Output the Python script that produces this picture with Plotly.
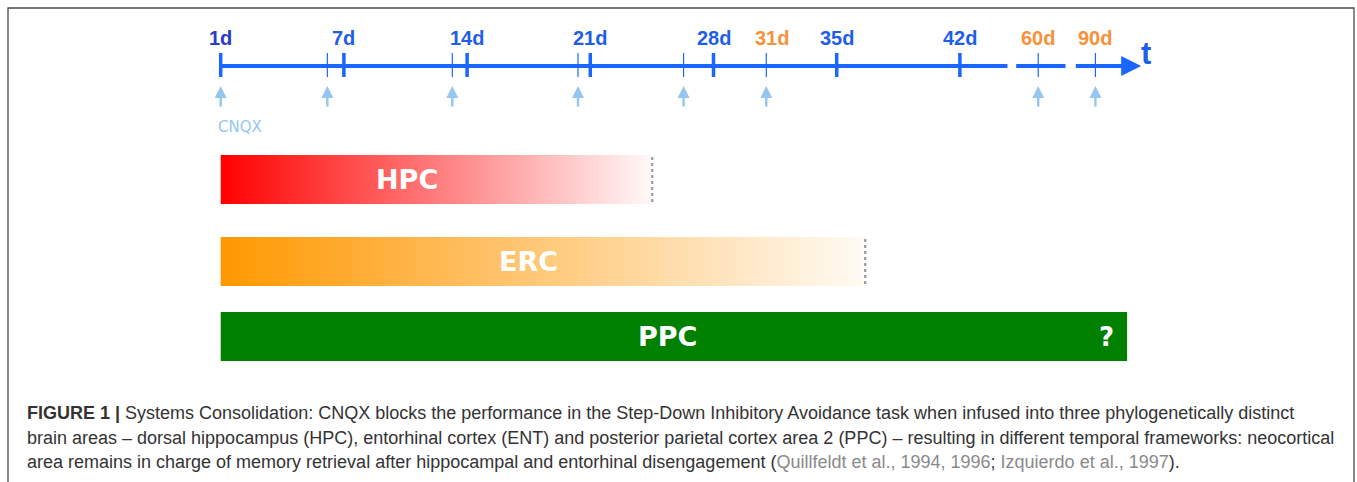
import plotly.graph_objects as go

# ---------------- data ----------------
major_tick_pos = [0, 7, 14, 21, 28, 35, 42]
major_tick_labels = ["1d", "7d", "14d", "21d", "28d", "35d", "42d"]
extra_tick_pos = [31, 46.45, 49.7]
extra_tick_labels = ["31d", "60d", "90d"]
infusion_pos = [0, 6.06, 13.16, 20.3, 26.3, 31.0, 46.45, 49.7]
axis_segments = [(0, 44.7), (45.2, 48.0)]
axis_arrow = (48.5, 52.3)

areas = ["HPC", "ERC", "PPC"]
area_start = [0, 0, 0]
area_end = [24.4, 36.5, 51.5]
area_label_x = [10.6, 17.5, 25.4]

caption_lines = [
    "<b>FIGURE 1 |</b> Systems Consolidation: CNQX blocks the performance in the Step-Down Inhibitory Avoidance task when infused into three phylogenetically distinct",
    "brain areas \u2013 dorsal hippocampus (HPC), entorhinal cortex (ENT) and posterior parietal cortex area 2 (PPC) \u2013 resulting in different temporal frameworks: neocortical",
    "area remains in charge of memory retrieval after hippocampal and entorhinal disengagement (<span style='color:#8a8a8a'>Quillfeldt et al., 1994, 1996</span>; <span style='color:#8a8a8a'>Izquierdo et al., 1997</span>).",
]

# ---------------- styles / layout constants ----------------
W, H = 1357, 482
PX0, PXD = 220.7, 17.6          # pixel of day-position 0, pixels per day
BLUE = "#1a66ff"
LBL_BLUE = "#1f5ee8"
FIRST_BLUE = "#2b3bc8"
ORANGE = "#f7913a"
ARROW_BLUE = "#95c6f2"
LINE_Y = 66
TICK_Y = (53, 77)
LABEL_Y = 38
ARR_Y = (108, 86)
ROW_Y = [(155, 204), (237, 286), (312, 361)]
ROW_COL = [("#ff0000", "#fff8f8"), ("#ff9800", "#fffaf3"), ("#008000", "#008000")]
CAP_Y = [413, 438, 462]

fig = go.Figure()

# bars
for i, name in enumerate(areas):
    y0, y1 = ROW_Y[i]
    x0, x1 = area_start[i], area_end[i]
    c0, c1 = ROW_COL[i]
    fig.add_trace(go.Scatter(
        x=[x0, x1, x1, x0, x0], y=[y0, y0, y1, y1, y0],
        mode="lines", line=dict(width=0), fill="toself",
        fillgradient=dict(type="horizontal", colorscale=[[0, c0], [1, c1]]),
        hoverinfo="skip", showlegend=False))
    if i < 2:
        fig.add_trace(go.Scatter(
            x=[x1 + 0.12, x1 + 0.12], y=[y0 + 2, y1 - 1], mode="lines",
            line=dict(color="#9a9a9a", width=2.2, dash="dot"),
            hoverinfo="skip", showlegend=False))
    fig.add_annotation(x=area_label_x[i], y=(y0 + y1) / 2, text=f"<b>{name}</b>",
                       showarrow=False, font=dict(family="DejaVu Sans", size=27, color="white"))
fig.add_annotation(x=area_end[2] - 1.15, y=sum(ROW_Y[2]) / 2, text="<b>?</b>", showarrow=False,
                   font=dict(family="DejaVu Sans", size=26, color="white"))

# time axis line segments
xs, ys = [], []
for a, b in axis_segments:
    xs += [a, b, None]
    ys += [LINE_Y, LINE_Y, None]
fig.add_trace(go.Scatter(x=xs, y=ys, mode="lines", line=dict(color=BLUE, width=4),
                         hoverinfo="skip", showlegend=False))
fig.add_annotation(x=axis_arrow[1], y=LINE_Y, ax=axis_arrow[0], ay=LINE_Y, axref="x", ayref="y",
                   text="", showarrow=True, arrowhead=2, arrowsize=1.0, arrowwidth=4, arrowcolor=BLUE,
                   standoff=0, startstandoff=0)
fig.add_annotation(x=axis_arrow[1] + 0.3, y=53, text="<b>t</b>", showarrow=False, xanchor="center",
                   font=dict(family="Liberation Sans", size=31, color=LBL_BLUE))

# major ticks
xs, ys = [], []
for p in major_tick_pos:
    xs += [p, p, None]
    ys += [TICK_Y[0], TICK_Y[1], None]
fig.add_trace(go.Scatter(x=xs, y=ys, mode="lines", line=dict(color=BLUE, width=3.5),
                         hoverinfo="skip", showlegend=False))
# thin infusion ticks
xs, ys = [], []
for p in infusion_pos[1:]:
    xs += [p, p, None]
    ys += [TICK_Y[0], TICK_Y[1], None]
fig.add_trace(go.Scatter(x=xs, y=ys, mode="lines", line=dict(color=BLUE, width=1.2),
                         hoverinfo="skip", showlegend=False))

# tick labels
for p, t in zip(major_tick_pos, major_tick_labels):
    col = FIRST_BLUE if t == "1d" else LBL_BLUE
    fig.add_annotation(x=p, y=LABEL_Y, text=f"<b>{t}</b>", showarrow=False,
                       font=dict(family="Liberation Sans", size=20, color=col))
for p, t in zip(extra_tick_pos, extra_tick_labels):
    fig.add_annotation(x=p + (0.3 if t == "31d" else 0), y=LABEL_Y, text=f"<b>{t}</b>", showarrow=False,
                       font=dict(family="Liberation Sans", size=20, color=ORANGE))

# infusion arrows
for p in infusion_pos:
    fig.add_annotation(x=p, y=ARR_Y[1], ax=p, ay=ARR_Y[0], axref="x", ayref="y", text="",
                       showarrow=True, arrowhead=2, arrowsize=1.0, arrowwidth=2.4,
                       arrowcolor=ARROW_BLUE, standoff=0)
fig.add_annotation(x=infusion_pos[0] - 0.25, y=127, text="CNQX", showarrow=False, xanchor="left",
                   font=dict(family="DejaVu Sans", size=15, color=ARROW_BLUE))

# caption
for yy, line in zip(CAP_Y, caption_lines):
    fig.add_annotation(x=25 / W, xref="paper", y=yy, text=line, showarrow=False, xanchor="left",
                       font=dict(family="Liberation Sans", size=18, color="#333333"))

# frame
fig.add_shape(type="rect", xref="paper", yref="paper", x0=8 / W, x1=1354 / W,
              y0=-0.2, y1=1 - 8 / H, line=dict(color="#4a4a4a", width=1.3), fillcolor="rgba(0,0,0,0)")

fig.update_layout(
    width=W, height=H, margin=dict(l=0, r=0, t=0, b=0),
    paper_bgcolor="white", plot_bgcolor="white", showlegend=False,
    xaxis=dict(range=[-PX0 / PXD, (W - PX0) / PXD], visible=False, fixedrange=True),
    yaxis=dict(range=[H, 0], visible=False, fixedrange=True),
)

fig.write_html("out.html", config={"displayModeBar": False},
               post_script="document.body.style.margin='0px';document.body.style.overflow='hidden';")
